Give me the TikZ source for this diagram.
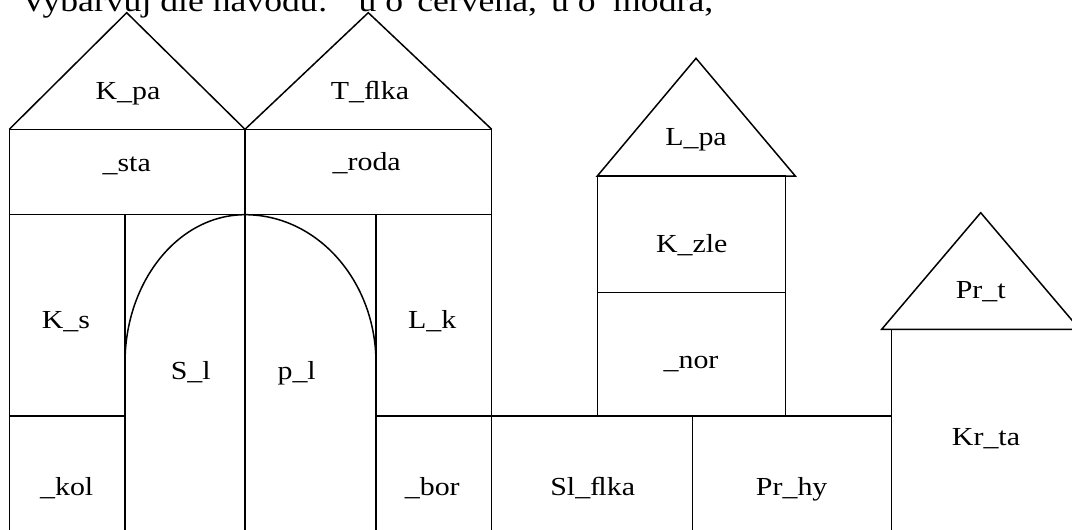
\documentclass[tikz,border=0pt]{standalone}
\usepackage{fontspec}
\setmainfont{Liberation Serif}[FakeStretch=1.15]
\begin{document}
\begin{tikzpicture}[x=1pt,y=-1pt,line width=1.5pt,
  lbl/.style={font=\fontsize{26}{30}\selectfont,anchor=base,inner sep=0pt},
  headline/.style={font=\fontsize{31}{36}\selectfont,anchor=base west,inner sep=0pt}]
\useasboundingbox (0,0) rectangle (1072,530);
\clip (0,0) rectangle (1072,530);
% heading (cut at the top edge)
\node[headline] (head) at (20,11) {Vybarvuj dle návodu:\quad u o\, červená,\, u o\; modrá,};
% left castle
\draw (9.3,129.3) -- (126.7,12.7) -- (245,129.3) -- (368.3,12.7) -- (491.7,129.3);
\draw (9.3,129.3) -- (491.7,129.3);
\draw (9.3,214.7) -- (491.7,214.7);
\draw (9.3,129.3) -- (9.3,540);
\draw (491.7,129.3) -- (491.7,540);
\draw (245,129.3) -- (245,540);
\draw (125,214.7) -- (125,540);
\draw (376,214.7) -- (376,540);
\draw (9.3,416) -- (125,416);
\draw (376,416) -- (891.7,416);
\draw (125,363) .. controls (125,281.1) and (178.7,214.7) .. (245,214.7)
      .. controls (317.4,214.7) and (376,281.1) .. (376,363);
% middle tower
\draw (597.3,176) -- (696,58.3) -- (795.3,176) -- cycle;
\draw (597.3,176) rectangle (785.3,416);
\draw (597.3,292.7) -- (785.3,292.7);
\draw (692.7,416) -- (692.7,540);
% right tower
\draw (881.7,329.3) -- (980.7,212.7) -- (1079.7,329.3) -- cycle;
\draw (891.7,329.3) -- (891.7,540);
% labels
\node[lbl] (kpa) at (128,99) {K\_pa};
\node[lbl] (tflka) at (370,99) {T\_ﬂka};
\node[lbl] (sta) at (126.7,171.5) {\_sta};
\node[lbl] (roda) at (366.7,170.5) {\_roda};
\node[lbl] (ks) at (66,328.3) {K\_s};
\node[lbl] (lk) at (432.3,328.3) {L\_k};
\node[lbl] (sl) at (190.7,379.3) {S\_l};
\node[lbl] (pl) at (296.7,379.3) {p\_l};
\node[lbl] (kol) at (66.7,495) {\_kol};
\node[lbl] (bor) at (432.3,495) {\_bor};
\node[lbl] (lpa) at (696,145) {L\_pa};
\node[lbl] (kzle) at (691.7,252.7) {K\_zle};
\node[lbl] (nor) at (691,368.3) {\_nor};
\node[lbl] (slfka) at (592.7,495) {Sl\_ﬂka};
\node[lbl] (prhy) at (791.7,495) {Pr\_hy};
\node[lbl] (prt) at (980.7,298.3) {Pr\_t};
\node[lbl] (krta) at (986,445) {Kr\_ta};
\end{tikzpicture}
\end{document}
